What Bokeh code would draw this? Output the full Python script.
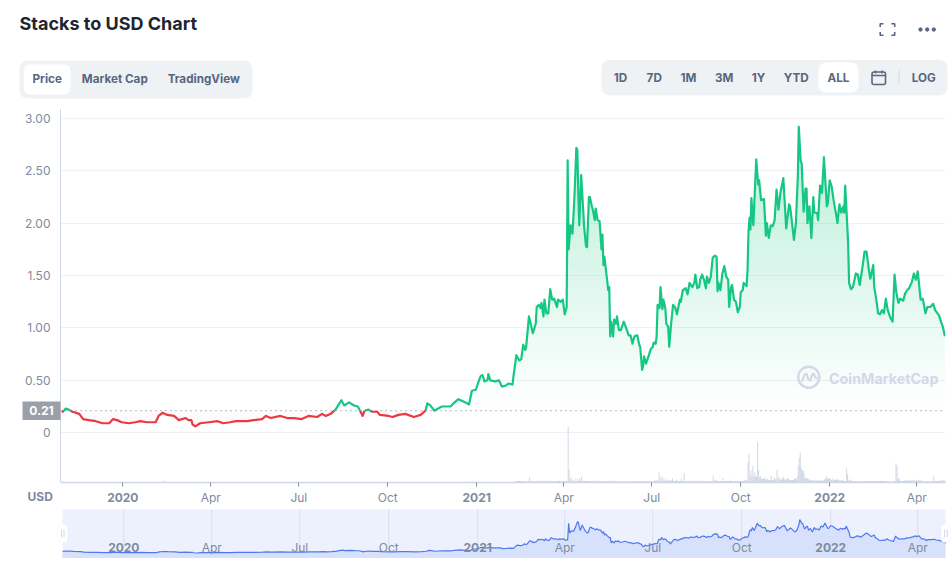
from datetime import datetime, timedelta
import numpy as np
from bokeh.embed import file_html
from bokeh.resources import INLINE
from bokeh.layouts import column
from bokeh.plotting import figure
from bokeh.models import Range1d, FixedTicker, Span, BoxAnnotation
from bokeh.core.properties import value

# ---------- data ----------
START_DATE = datetime(2019, 10, 29)
BASE_PRICE = 0.21

price_days = [1,2,5,8,12,19,23,29,36,43,50,54,58,63,70,77,82,89,98,101,105,110,117,122,129,132,135,136,139,144,153,162,168,175,181,193,199,208,212,217,227,234,241,249,256,265,270,274,279,284,290,293,298,303,307,311,312,314,318,322,327,330,339,343,349,356,365,372,377,379,382,386,394,403,406,411,418,422,425,429,432,
434,436,438,441,442,444,449,453,456,460,463,467,468,471,474,476,478,480,481,484,486,488,491,492,494,496,497,499,500,502,504,506,508,510,513,514,517,519,521,523,524,525,527,529,531,533,534,535,536,538,541,543,544,546,547,549,550,552,553,555,557,559,560,561,562,564,566,567,568,569,571,572,574,575,577,579,582,586,587,589,591,593,596,598,599,601,602,603,605,608,610,612,613,615,616,617,619,620,622,623,625,626,628,629,631,633,635,637,640,641,643,646,648,650,653,655,656,658,660,661,663,665,667,668,670,672,674,676,678,
679,680,682,684,686,688,690,691,693,694,696,698,700,702,703,705,706,709,710,711,712,713,714,716,719,721,722,724,727,729,730,732,734,736,738,740,742,744,747,750,753,754,758,760,762,763,765,766,768,770,771,772,774,776,778,779,782,783,785,787,789,792,793,795,797,799,802,803,805,807,809,810,811,813,814,815,817,819,822,824,826,829,831,833,836,837,840,841,843,845,847,849,851,853,855,858,860,862,864,866,868,871,873,875,877,880,882,884,886,889,891,892,894,896,899,902,904,908,910,912,914]
price_values = [.21,.20,.23,.22,.20,.18,.13,.12,.11,.09,.09,.13,.12,.10,.09,.10,.11,.10,.10,.16,.19,.17,.16,.12,.14,.12,.12,.08,.06,.09,.10,.11,.09,.10,.11,.11,.12,.13,.16,.14,.16,.14,.14,.13,.16,.15,.18,.16,.18,.22,.31,.26,.29,.26,.25,.18,.16,.21,.22,.20,.20,.17,.16,.15,.17,.18,.15,.17,.21,.28,.26,.21,.25,.25,.28,.32,.29,.27,.40,.41,.49,
.54,.55,.49,.50,.56,.50,.49,.50,.44,.45,.47,.46,.54,.74,.69,.70,.84,.79,.81,1.11,1.03,.95,1.04,1.20,1.22,1.19,1.24,1.11,1.27,1.14,1.14,1.37,1.27,1.28,1.20,1.27,1.25,1.27,1.13,1.20,2.60,1.75,1.98,1.90,2.25,2.72,2.70,2.29,1.98,2.46,1.97,1.78,1.77,2.25,2.25,2.16,2.13,2.03,2.14,2.03,2.02,1.75,1.89,1.60,1.68,1.52,1.36,1.39,.92,1.06,.92,1.08,1.04,1.11,.98,.98,1.06,.96,.93,.93,.85,.92,.93,.84,.82,.60,.63,.73,.66,.74,.80,.82,.86,.85,.92,1.22,1.19,1.39,1.18,1.27,1.19,1.04,1.01,.82,1.04,1.22,1.20,1.13,1.27,1.25,1.36,1.38,1.32,1.43,1.39,1.43,1.51,1.38,1.39,1.46,1.51,1.46,1.38,1.49,1.43,1.49,1.67,1.69,1.68,
1.35,1.43,1.36,1.52,1.59,1.49,1.46,1.20,1.39,1.41,1.27,1.25,1.15,1.20,1.34,1.36,1.43,1.40,1.55,1.92,2.05,1.94,2.24,1.98,2.61,2.37,2.41,2.22,2.23,1.88,2.00,1.86,1.98,1.97,2.03,2.32,2.13,2.29,2.43,1.95,2.18,2.16,1.84,2.00,2.45,2.92,2.59,2.57,2.11,2.33,2.33,2.00,2.16,1.86,2.25,2.10,2.10,2.03,2.36,2.29,2.63,2.16,2.19,2.41,2.35,2.22,2.06,2.00,2.18,2.10,2.16,2.10,2.36,2.00,1.81,1.43,1.37,1.39,1.52,1.51,1.41,1.59,1.73,1.73,1.52,1.47,1.60,1.39,1.28,1.14,1.13,1.17,1.14,1.28,1.17,1.09,1.06,1.51,1.33,1.24,1.28,1.26,1.33,1.36,1.38,1.44,1.52,1.46,1.54,1.27,1.28,1.24,1.14,1.20,1.20,1.23,1.17,1.12,1.06,1.01,.92]

volume_days = [0,106,107,425,426,468,470,479,484,485,492,493,501,502,515,516,522,524,525,526,527,528,529,530,532,533,534,535,536,537,538,539,544,545,555,556,572,573,589,606,611,613,618,619,620,621,622,623,625,626,632,633,636,637,641,642,644,645,649,650,658,659,674,675,677,678,684,685,692,693,706,708,710,711,712,713,714,715,716,717,718,720,721,722,723,724,727,728,730,731,734,735,737,738,740,741,742,743,746,748,751,753,758,760,761,762,763,764,765,766,768,769,770,773,775,779,786,789,791,792,794,796,798,799,801,804,810,812,813,814,817,818,823,830,849,853,861,863,864,865,867,868,872,879,884,885,889,891,902,903,908,915]
volume_values = [4,20,4,15,5,8,15,10,50,12,20,12,20,12,20,12,15,557,130,20,50,20,30,15,40,15,30,15,40,15,60,15,20,12,20,12,20,10,12,12,8,20,103,20,60,20,50,20,40,20,40,15,30,15,40,15,90,12,20,12,20,12,70,20,30,15,40,15,30,15,20,25,200,290,60,120,60,170,60,100,60,400,130,50,60,35,50,30,40,25,70,25,50,30,130,40,60,30,50,30,40,25,40,30,60,170,250,300,150,120,90,50,40,30,20,20,20,30,60,40,40,25,40,25,30,20,15,140,80,20,30,15,12,15,15,10,12,190,170,40,30,15,20,20,30,20,20,12,60,15,20,20]

quarter_dates = ["2020-01-01","2020-04-01","2020-07-01","2020-10-01","2021-01-01","2021-04-01","2021-07-01","2021-10-01","2022-01-01","2022-04-01"]
quarter_labels = ["2020","Apr","Jul","Oct","2021","Apr","Jul","Oct","2022","Apr"]
price_ticks = [0,0.5,1,1.5,2,2.5,3]
price_tick_labels = ["0","0.50","1.00","1.50","2.00","2.50","3.00"]
tab_labels = ["Price","Market Cap","TradingView"]
span_labels = ["1D","7D","1M","3M","1Y","YTD","ALL"]

# ---------- colours ----------
GREEN, RED = "#16c784", "#ea3943"
GREY, SLATE, PANEL, LINE = "#808a9d", "#58667e", "#eff2f5", "#cfd6e4"
FONT = value("Inter")
W = 951
PAGE_H = 558

def ms(day):
    return (START_DATE - datetime(1970, 1, 1)).total_seconds() * 1000 + np.asarray(day, dtype=float) * 86400000.0

def crossings(x, y, level):
    a, b = y[:-1] - level, y[1:] - level
    i = np.where(a * b < 0)[0]
    return x[i] + (x[i + 1] - x[i]) * (level - y[i]) / (y[i + 1] - y[i])

def with_levels(x, y, levels):
    xb = np.unique(np.concatenate([x] + [crossings(x, y, l) for l in levels]))
    return xb, np.interp(xb, x, y)

d = np.array(price_days, dtype=float)
v = np.array(price_values, dtype=float)
q_ms = [(datetime.fromisoformat(s) - datetime(1970, 1, 1)).total_seconds() * 1000 for s in quarter_dates]

# ---------- transparent page-scale layer: header, outside-frame texts, watermark ----------
top = figure(width=W, height=PAGE_H, x_range=Range1d(0, 951), y_range=Range1d(PAGE_H, 0),
             toolbar_location=None, output_backend="svg", min_border=0, outline_line_color=None,
             background_fill_color=None, border_fill_color=None, margin=(-PAGE_H, 0, 0, 0))
top.axis.visible = False
top.grid.visible = False
top.frame_align = False

def box(fig, l, r, t, b, color, radius=0, line=None):
    fig.add_layout(BoxAnnotation(left=l, right=r, top=t, bottom=b, fill_color=color, fill_alpha=1 if color else 0,
                                 line_color=line, line_alpha=1 if line else 0, line_width=1.6,
                                 border_radius=radius, level="underlay"))

box(top, 19, 252, 60, 98, PANEL, 8)
box(top, 23.3, 70, 64, 94, "#ffffff", 6)
box(top, 601, 947, 59.5, 95, PANEL, 8)
box(top, 818, 858, 62, 92, "#ffffff", 8)
box(top, 22, 60, 401, 419.5, "#9a9fa9")

top.text([19], [23], text=["Stacks to USD Chart"], text_font=FONT, text_font_size="18px", text_font_style="bold",
         text_color="#222531", text_baseline="middle", text_align="left")
top.text([46.7, 114.3, 203.3], [78.7] * 3, text=tab_labels, text_font=FONT, text_font_size="11.7px",
         text_font_style="bold", text_color=SLATE, text_align="center", text_baseline="middle")
top.text([620, 653.7, 688, 723.7, 758, 795.7, 838, 923.3], [77.5] * 8, text=span_labels + ["LOG"], text_font=FONT,
         text_font_size="11.7px", text_font_style="bold", text_color=SLATE, text_align="center", text_baseline="middle")
# icons
top.multi_line([[879.7, 879.7, 883], [890.8, 894.2, 894.2], [879.7, 879.7, 883], [894.2, 894.2, 890.8]],
               [[26.5, 23.2, 23.2], [23.2, 23.2, 26.5], [31.5, 34.8, 34.8], [31.5, 34.8, 34.8]],
               line_color=SLATE, line_width=1.6)
top.scatter([920, 926.7, 933.3], [29] * 3, size=3.4, marker="circle", color=SLATE)
box(top, 871.5, 885, 71.5, 84, None, 2, SLATE)
top.segment([871.5, 875, 881.5], [75, 70, 70], [885, 875, 881.5], [75, 73, 73], line_color=SLATE, line_width=1.5)
top.segment([898.5], [70], [898.5], [83], line_color=LINE, line_width=1)

# ---------- main chart ----------
PX_PER_DAY, PX_PER_USD = 0.9671, 104.75
Y0 = 432.2
main = figure(width=W, height=399, x_axis_type="datetime",
              x_range=Range1d(float(ms(-0.41)), float(ms(914.7))),
              y_range=Range1d((Y0 - 482) / PX_PER_USD, (Y0 - 109) / PX_PER_USD),
              toolbar_location=None, output_backend="svg", outline_line_color=None,
              min_border_left=60, min_border_right=6, min_border_top=1, min_border_bottom=25,
              margin=(108, 0, 0, 0))
main.frame_align = False
main.extra_y_ranges = {"volume": Range1d(0, 3730)}

main.xgrid.visible = False
main.ygrid.ticker = FixedTicker(ticks=price_ticks)
main.ygrid.grid_line_color = PANEL
main.ygrid.grid_line_width = 1

main.yaxis.ticker = FixedTicker(ticks=price_ticks)
main.yaxis.major_label_overrides = dict(zip(price_ticks, price_tick_labels))
main.yaxis.major_tick_line_color = None
main.yaxis.minor_tick_line_color = None
main.yaxis.axis_line_color = LINE
main.yaxis.major_label_text_color = GREY
main.yaxis.major_label_text_font = "Inter"
main.yaxis.major_label_text_font_size = "12px"
main.yaxis.major_label_standoff = 4

main.xaxis.ticker = FixedTicker(ticks=q_ms)
main.xaxis.major_label_overrides = {t: ("" if l.startswith("20") else l) for t, l in zip(q_ms, quarter_labels)}
main.xaxis.minor_tick_line_color = None
main.xaxis.major_tick_in = 0
main.xaxis.major_tick_out = 4
main.xaxis.major_tick_line_color = GREY
main.xaxis.axis_line_color = LINE
main.xaxis.axis_line_width = 1.5
main.xaxis.major_label_text_color = GREY
main.xaxis.major_label_text_font = "Inter"
main.xaxis.major_label_text_font_size = "12px"
main.xaxis.major_label_standoff = 3

# volume bars
vd = np.array(volume_days, dtype=float)
main.quad(left=ms(vd[:-1]), right=ms(vd[1:]), top=volume_values[:-1], bottom=0, y_range_name="volume",
          fill_color=LINE, line_color=None)

# gradient bands of the area above the base price
edges = np.linspace(BASE_PRICE, 2.95, 61)
for lo, hi in zip(edges[:-1], edges[1:]):
    xb, yb = with_levels(d, v, [lo, hi])
    alpha = float(((lo + hi) / 2 - BASE_PRICE) / (2.95 - BASE_PRICE) * 0.31)
    main.varea(x=ms(xb), y1=np.clip(yb, lo, hi), y2=np.full_like(yb, lo), fill_color=GREEN, fill_alpha=alpha)

xb, yb = with_levels(d, v, [BASE_PRICE])
main.varea(x=ms(xb), y1=np.minimum(yb, BASE_PRICE), y2=np.full_like(yb, BASE_PRICE), fill_color=RED, fill_alpha=0.022)

main.add_layout(Span(location=BASE_PRICE, dimension="width", line_color="#6f7889", line_width=1, line_dash="1 4"))
main.line(ms(xb), np.where(yb <= BASE_PRICE + 1e-9, yb, np.nan), line_color=RED, line_width=2.2, line_join="round")
main.line(ms(xb), np.where(yb >= BASE_PRICE - 1e-9, yb, np.nan), line_color=GREEN, line_width=2.2, line_join="round")

# watermark
top.scatter([808.3], [376.7], marker="circle", size=21, fill_color=None, line_color="#d3d8e8", line_width=2.4)
top.line([801.5, 804, 806, 808, 810, 811.5, 813, 815, 817], [381, 374, 373.5, 379, 380, 374.5, 373, 377, 378],
         line_color="#d3d8e8", line_width=2.2, line_join="round")
top.text([828.5], [377.5], text=["CoinMarketCap"], text_font=FONT, text_font_size="14.3px", text_font_style="bold",
         text_color="#d3d8e8", text_baseline="middle", text_align="left")

# year labels, currency and current-value marker
for t, l in zip(q_ms, quarter_labels):
    if l.startswith("20"):
        tx = 60.4 + (t - float(ms(0))) / 86400000.0 * PX_PER_DAY
        top.text([tx], [497], text=[l], text_font=FONT, text_font_size="12px", text_font_style="bold", text_color=GREY,
                 text_align="center", text_baseline="middle")
top.text([27], [496], text=["USD"], text_font=FONT, text_font_size="12px", text_font_style="bold", text_color=GREY,
         text_align="left", text_baseline="middle")
top.text([41], [410], text=["0.21"], text_font=FONT, text_font_size="12px", text_font_style="bold", text_color="#ffffff",
         text_align="center", text_baseline="middle")

# ---------- navigator ----------
NAV_X0 = 61.4
def nav_day(x):
    return float(ms((x - NAV_X0) / PX_PER_DAY))
NAV_PX_PER_USD, NAV_Y0 = 11.7, 553.2
def nav_usd(y):
    return (NAV_Y0 - y) / NAV_PX_PER_USD

nav = figure(width=W, height=51, x_axis_type="datetime", x_range=Range1d(nav_day(0), nav_day(951)),
             y_range=Range1d(nav_usd(558), nav_usd(507)), toolbar_location=None, output_backend="svg",
             min_border=0, outline_line_color=None)
nav.frame_align = False
nav.axis.visible = False
nav.grid.visible = False
nav.quad(left=[nav_day(62)], right=[nav_day(945)], top=[nav_usd(509)], bottom=[nav_usd(558)], fill_color="#edf1fe", line_color=None)
nav.segment(q_ms, [nav_usd(558)] * 10, q_ms, [nav_usd(509)] * 10, line_color="#d9dfec", line_width=1)
nav_x = np.concatenate([[nav_day(62)], ms(d), [nav_day(945)]])
nav_y = np.concatenate([[v[0]], v, [v[-1]]])
nav.varea(x=nav_x, y1=nav_y, y2=np.full_like(nav_y, nav_usd(558)), fill_color="#d8e1fb")
nav.line(nav_x, nav_y, line_color="#4d78f2", line_width=1.2)
for t, l in zip(q_ms, quarter_labels):
    year = l.startswith("20")
    nav.text([t], [nav_usd(547)], text=[l], text_font=FONT, text_font_size="12px", text_font_style="bold" if year else "normal",
             text_color=GREY, text_align="center", text_baseline="middle")
for cx in (62.3, 945.5):
    nav.add_layout(BoxAnnotation(left=nav_day(cx - 5), right=nav_day(cx + 5), top=nav_usd(523.5), bottom=nav_usd(542),
                                 fill_color="#ffffff", fill_alpha=1, line_color="#e3e7ef", line_width=1, border_radius=4))
    for off in (-1.2, 1.2):
        nav.add_layout(BoxAnnotation(left=nav_day(cx + off - 0.4), right=nav_day(cx + off + 0.4), top=nav_usd(529), bottom=nav_usd(537),
                                     fill_color="#c3cad8", fill_alpha=1, line_color=None))

page = column(main, nav, top, spacing=0)
open("out.html", "w").write(file_html(page, INLINE))
